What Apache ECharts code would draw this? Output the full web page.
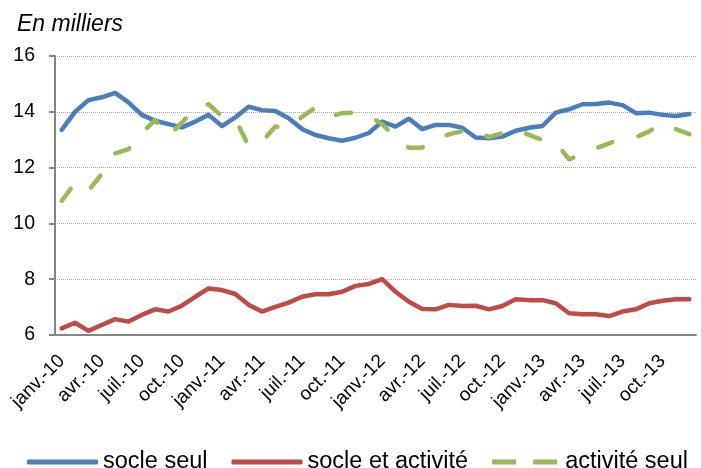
<!DOCTYPE html>
<html>
<head>
<meta charset="utf-8">
<script src="https://cdn.jsdelivr.net/npm/echarts@6/dist/echarts.min.js"></script>
<style>
  html, body { margin: 0; padding: 0; background: #fff; }
  #chart { width: 701px; height: 468px; }
</style>
</head>
<body>
<div id="chart"></div>
<script>
// mois de janv.-10 a déc.-13
const months = ['janv.', 'févr.', 'mars', 'avr.', 'mai', 'juin', 'juil.', 'août', 'sept.', 'oct.', 'nov.', 'déc.']
const years = ['10', '11', '12', '13']
const categories = []
years.forEach(y => months.forEach(m => categories.push(m + '-' + y)))

const yTicks = { min: 6, max: 16, interval: 2 }

const socleSeul = [
  13.35, 14.0, 14.42, 14.52, 14.68, 14.34, 13.89, 13.68, 13.56, 13.44, 13.65, 13.89,
  13.49, 13.8, 14.18, 14.06, 14.03, 13.77, 13.38, 13.17, 13.05, 12.96, 13.07, 13.24,
  13.65, 13.47, 13.75, 13.38, 13.53, 13.53, 13.43, 13.08, 13.05, 13.11, 13.32, 13.43,
  13.49, 13.97, 14.09, 14.27, 14.28, 14.33, 14.24, 13.95, 13.97, 13.89, 13.85, 13.92
]
const socleEtActivite = [
  6.24, 6.44, 6.15, 6.36, 6.57, 6.48, 6.72, 6.92, 6.84, 7.05, 7.37, 7.67,
  7.61, 7.47, 7.08, 6.84, 7.01, 7.16, 7.37, 7.46, 7.46, 7.55, 7.76, 7.83,
  8.0, 7.55, 7.19, 6.93, 6.92, 7.08, 7.04, 7.05, 6.92, 7.04, 7.28, 7.25,
  7.25, 7.14, 6.78, 6.74, 6.74, 6.68, 6.84, 6.92, 7.14, 7.23, 7.28, 7.28
]
const activiteSeul = [
  10.81, 11.45, 11.17, 11.77, 12.51, 12.66, 13.23, 13.71, 13.13, 13.61, 14.13, 14.27,
  13.84, 13.74, 12.77, 12.93, 13.47, 13.41, 13.82, 14.15, 13.82, 13.95, 13.97, 13.86,
  13.56, 13.07, 12.71, 12.72, 13.04, 13.19, 13.31, 13.36, 13.09, 13.24, 13.38, 13.17,
  12.99, 12.89, 12.30, 12.49, 12.69, 12.87, 13.05, 13.09, 13.30, 13.59, 13.38, 13.2
]

const font = '"Liberation Sans", Arial, sans-serif'
const axisGrey = '#868686'
// icone de legende en tirets (deux traits)
const dashIcon = 'path://M0,0h24v5h-24z M41,0h24v5h-24z'

const chart = echarts.init(document.getElementById('chart'))
chart.setOption({
  animation: false,
  textStyle: { fontFamily: font },
  title: {
    text: 'En milliers',
    left: 12,
    top: 8,
    textStyle: { fontFamily: font, fontStyle: 'italic', fontWeight: 'normal', fontSize: 23, color: '#000' }
  },
  legend: {
    left: 22,
    top: 445,
    itemWidth: 71,
    itemHeight: 5,
    itemGap: 24,
    itemStyle: { borderWidth: 0 },
    textStyle: { fontFamily: font, fontSize: 23.5, color: '#000' },
    data: [
      { name: 'socle seul', icon: 'roundRect' },
      { name: 'socle et activité', icon: 'roundRect' },
      { name: 'activité seul', icon: dashIcon, itemStyle: { color: '#98B954', borderWidth: 0 } }
    ]
  },
  grid: {
    left: 55,
    right: 5,
    top: 56,
    bottom: 133,
    containLabel: false
  },
  xAxis: {
    type: 'category',
    data: categories,
    boundaryGap: true,
    axisLine: { lineStyle: { color: axisGrey, width: 2 } },
    axisTick: { interval: 2, length: 6, lineStyle: { color: axisGrey, width: 2 } },
    axisLabel: {
      interval: 2,
      rotate: 45,
      margin: 23,
      fontFamily: font,
      fontSize: 19,
      color: '#000'
    },
    splitLine: { show: false }
  },
  yAxis: {
    type: 'value',
    min: yTicks.min,
    max: yTicks.max,
    interval: yTicks.interval,
    axisLine: { show: true, lineStyle: { color: axisGrey, width: 2 } },
    axisTick: { show: true, length: 6, lineStyle: { color: axisGrey, width: 2 } },
    axisLabel: { margin: 20, fontFamily: font, fontSize: 19.5, color: '#000' },
    splitLine: { lineStyle: { color: '#A6A6A6', type: 'dotted', width: 1 } }
  },
  series: [
    {
      name: 'socle seul',
      type: 'line',
      data: socleSeul,
      symbol: 'none',
      color: '#4A7EBB',
      lineStyle: { width: 4.5, cap: 'round', join: 'round' }
    },
    {
      name: 'socle et activité',
      type: 'line',
      data: socleEtActivite,
      symbol: 'none',
      color: '#BE4B48',
      lineStyle: { width: 4.5, cap: 'round', join: 'round' }
    },
    {
      name: 'activité seul',
      type: 'line',
      data: activiteSeul,
      symbol: 'none',
      color: '#98B954',
      lineStyle: { width: 4.5, type: [15, 27], cap: 'round', join: 'round' }
    }
  ]
})
</script>
</body>
</html>
